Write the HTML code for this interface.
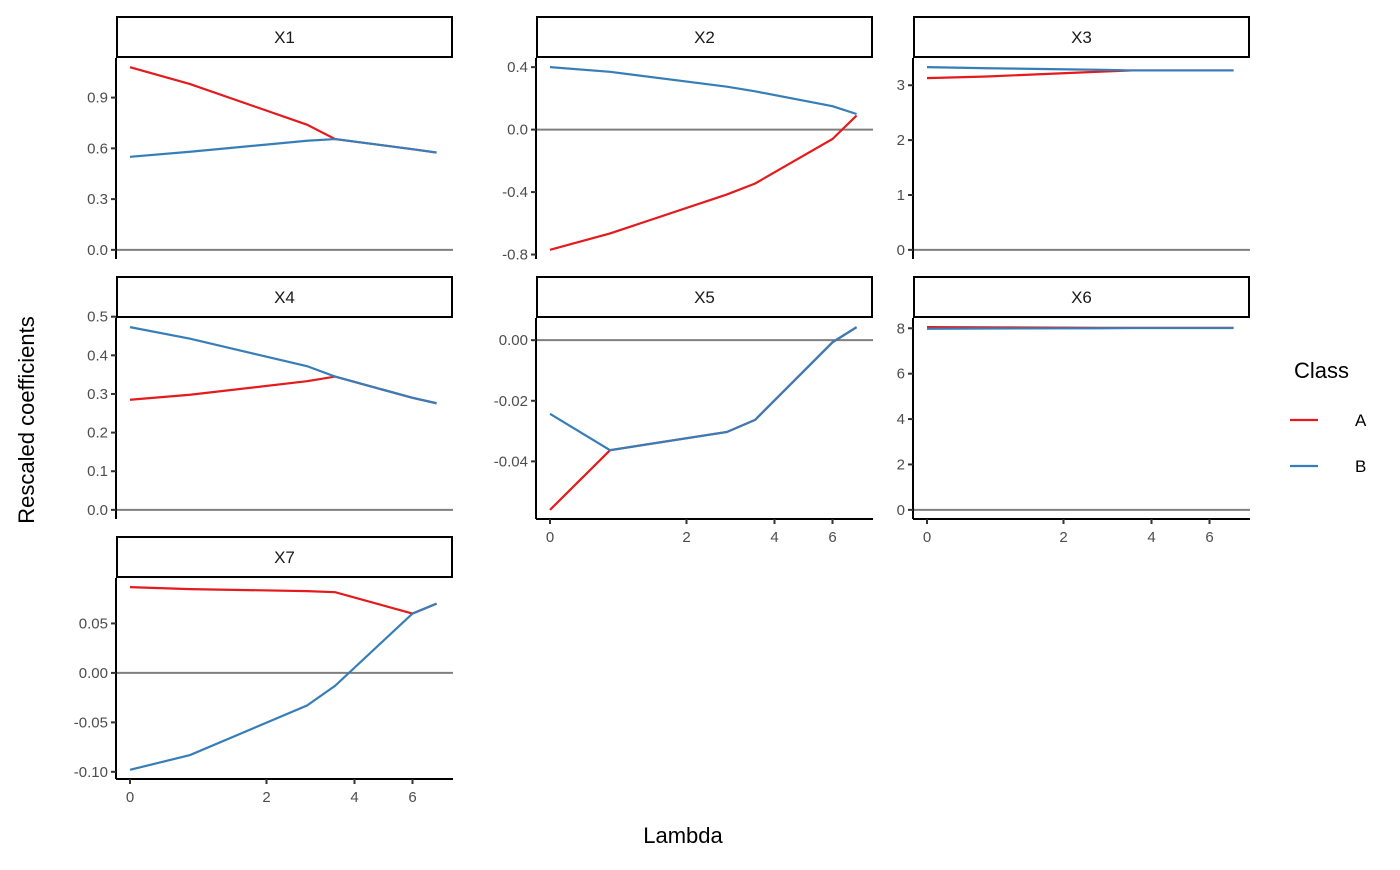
<!DOCTYPE html>
<html><head><meta charset="utf-8"><style>
body{margin:0;background:#fff;}
svg text{font-family:"Liberation Sans",Arial,sans-serif;}
</style></head><body>
<svg id="c" width="1400" height="865"></svg>
<script>
const lambdas=[0,0.88,2.92,3.56,6.0,6.83];
const panelNames=["X1","X2","X3","X4","X5","X6","X7"];
const seriesA=[[1.08,0.98,0.74,0.655,0.595,0.575],[-0.77,-0.665,-0.415,-0.345,-0.06,0.09],[3.13,3.16,3.25,3.27,3.27,3.27],[0.285,0.298,0.333,0.345,0.29,0.276],[-0.056,-0.0363,-0.0303,-0.0263,-0.0007,0.0043],[8.05,8.04,8.02,8.02,8.02,8.02],[0.0867,0.0847,0.0827,0.0816,0.06,0.07]];
const seriesB=[[0.55,0.58,0.645,0.655,0.595,0.575],[0.4,0.37,0.275,0.245,0.15,0.1],[3.33,3.31,3.28,3.27,3.27,3.27],[0.473,0.443,0.372,0.345,0.29,0.276],[-0.0243,-0.0363,-0.0303,-0.0263,-0.0007,0.0043],[7.98,7.99,8.0,8.01,8.01,8.01],[-0.098,-0.083,-0.033,-0.013,0.06,0.07]];
const yTicks=[[0,0.3,0.6,0.9],[-0.8,-0.4,0,0.4],[0,1,2,3],[0,0.1,0.2,0.3,0.4,0.5],[-0.04,-0.02,0],[0,2,4,6,8],[-0.1,-0.05,0,0.05]];
const yTickLabels=[["0.0","0.3","0.6","0.9"],["-0.8","-0.4","0.0","0.4"],["0","1","2","3"],["0.0","0.1","0.2","0.3","0.4","0.5"],["-0.04","-0.02","0.00"],["0","2","4","6","8"],["-0.10","-0.05","0.00","0.05"]];
const xTicks=[0,2,4,6];
const classes=["A","B"];
const colors=["#e41a1c","#377eb8"];

const svg=document.getElementById('c');
const NS="http://www.w3.org/2000/svg";
function mk(t,a,p){const e=document.createElementNS(NS,t);for(const k in a)e.setAttribute(k,a[k]);(p||svg).appendChild(e);return e;}
const kx=[0,2,4,6],kp=[0,136.5,224.5,282.5];
function xt(v){for(let i=0;i<kx.length-1;i++){if(v<=kx[i+1]||i==kx.length-2){return kp[i]+(v-kx[i])/(kx[i+1]-kx[i])*(kp[i+1]-kp[i]);}}}
const colX=[116,536,913],plotW=337;
const rowY=[16,276,536],stripH=42,plotH=201;
panelNames.forEach((nm,i)=>{
  const c=i%3,r=Math.floor(i/3);
  const x0=colX[c],top=rowY[r]+stripH,bot=top+plotH;
  const g=mk('g',{});
  
  
  const st=mk('rect',{x:x0+1,y:rowY[r]+1,width:plotW-2,height:stripH-2,fill:'#fff',stroke:'#000','stroke-width':2},g);
  
  
  const tt=mk('text',{x:x0+plotW/2,y:rowY[r]+27,'text-anchor':'middle','font-size':17,fill:'#1a1a1a'},g);tt.textContent=nm;
  
  
  const all=seriesA[i].concat(seriesB[i],[0]);
  let mn=Math.min(...all),mx=Math.max(...all),pad=(mx-mn)*0.05;mn-=pad;mx+=pad;
  const Y=v=>bot-(v-mn)/(mx-mn)*plotH;
  const X=v=>x0+14+xt(v);
  mk('line',{x1:x0,x2:x0+plotW,y1:Y(0),y2:Y(0),stroke:'#7f7f7f','stroke-width':2},g);
  mk('line',{x1:x0,x2:x0,y1:top,y2:bot,stroke:'#000','stroke-width':2},g);
  yTicks[i].forEach((t,j)=>{
    mk('line',{x1:x0-5,x2:x0,y1:Y(t),y2:Y(t),stroke:'#333','stroke-width':2},g);
    const l=mk('text',{x:x0-8,y:Y(t)+5,'text-anchor':'end','font-size':15,fill:'#4d4d4d'},g);l.textContent=yTickLabels[i][j];
    
    
  });
  if(i>=4){
    mk('line',{x1:x0,x2:x0+plotW,y1:bot,y2:bot,stroke:'#000','stroke-width':2},g);
    xTicks.forEach(t=>{
      mk('line',{x1:X(t),x2:X(t),y1:bot,y2:bot+5,stroke:'#333','stroke-width':2},g);
      const l=mk('text',{x:X(t),y:bot+23,'text-anchor':'middle','font-size':15,fill:'#4d4d4d'},g);l.textContent=t;
      
      
    });
  }
  [seriesA[i],seriesB[i]].forEach((s,k)=>{
    const p=mk('polyline',{points:s.map((v,j)=>X(lambdas[j])+','+Y(v)).join(' '),fill:'none',stroke:colors[k],'stroke-width':2.2},g);
    
    
  });
});
const xl=mk('text',{x:683,y:843,'text-anchor':'middle','font-size':22,fill:'#000'});xl.textContent='Lambda';


const yl=mk('text',{x:0,y:0,'text-anchor':'middle','font-size':22,fill:'#000',transform:'translate(34,420) rotate(-90)'});yl.textContent='Rescaled coefficients';


const lg=mk('g',{});


const lt=mk('text',{x:1294,y:378,'font-size':22,fill:'#000'},lg);lt.textContent='Class';
classes.forEach((c,k)=>{
  const y=420+k*46;
  const ln=mk('line',{x1:1290,x2:1318,y1:y,y2:y,stroke:colors[k],'stroke-width':2.2},lg);
  
  
  const t=mk('text',{x:1355,y:y+6,'font-size':17,fill:'#000'},lg);t.textContent=c;
  
  
});
</script>
</body></html>
